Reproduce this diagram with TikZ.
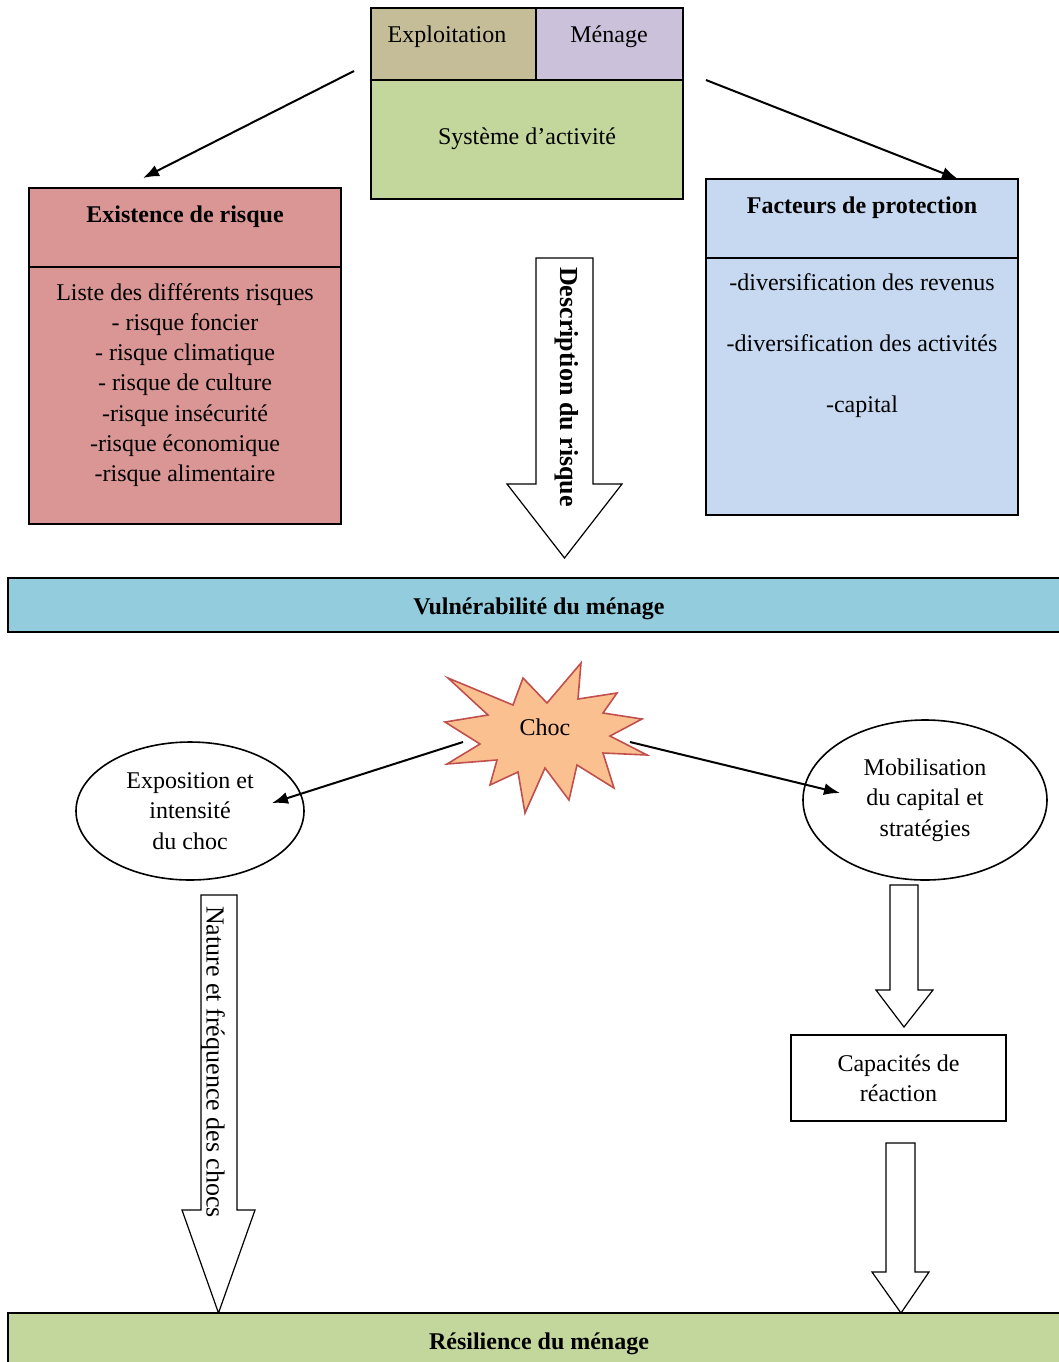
\documentclass[tikz,border=0pt]{standalone}
\usepackage{fontspec}
\setmainfont{Liberation Serif}
\usetikzlibrary{arrows.meta, shapes.geometric, positioning}

\definecolor{exploit}{HTML}{C4BD97}
\definecolor{menage}{HTML}{CCC1DA}
\definecolor{systeme}{HTML}{C3D69B}
\definecolor{risque}{HTML}{D99694}
\definecolor{protect}{HTML}{C6D9F1}
\definecolor{vuln}{HTML}{93CDDD}
\definecolor{chocfill}{HTML}{FAC090}
\definecolor{chocline}{HTML}{C0504D}

\tikzset{
    cell/.style={draw, line width=0.8pt, inner sep=0pt},
    txt/.style={align=center, inner sep=0pt, font=\fontsize{12}{15.15}\selectfont},
    btxt/.style={align=center, inner sep=0pt, font=\fontsize{12}{15.15}\selectfont\bfseries},
    bar/.style={cell, btxt, text height=9.5pt, text depth=0pt, minimum width=531pt, minimum height=27pt},
    oval/.style={ellipse, draw, line width=0.8pt, txt},
    blk/.style={draw, fill=white, line width=0.6pt},
    rot/.style={rotate=-90, inner sep=0pt, font=\fontsize{13}{15}\selectfont}
}

\begin{document}
\begin{tikzpicture}[x=0.5pt, y=-0.5pt, >={Latex[length=8pt,width=6pt]}]
            \useasboundingbox (0,0) rectangle (1059,1362);

            % activity system
            \node[cell, fill=exploit, minimum width=82.5pt, minimum height=36pt] (expl) at (453.5,44) {};
            \node[cell, fill=menage, minimum width=73.5pt, minimum height=36pt] (men) at (609.5,44) {};
            \node[cell, fill=systeme, minimum width=156pt, minimum height=59.5pt] (sys) at (527,139.5) {};
            \node[txt] (explt) at (447,37) {Exploitation};
            \node[txt] (ment) at (609,37) {Ménage};
            \node[txt] (syst) at (527,139) {Système d’activité};

            % risks
            \node[cell, fill=risque, minimum width=156pt, minimum height=39.5pt] (risqhead) at (185,227.5) {};
            \node[cell, fill=risque, minimum width=156pt, minimum height=128.5pt] (risqbody) at (185,395.5) {};
            \node[btxt] (risqtitle) at (185,217) {Existence de risque};
            \node[txt] (risqlist) at (185,385) {Liste des différents risques\\- risque foncier\\- risque climatique\\- risque de culture\\-risque insécurité\\-risque économique\\-risque alimentaire};

            % protection
            \node[cell, fill=protect, minimum width=156pt, minimum height=39.5pt] (prothead) at (862,218.5) {};
            \node[cell, fill=protect, minimum width=156pt, minimum height=128.5pt] (protbody) at (862,386.5) {};
            \node[btxt] (prottitle) at (862,208) {Facteurs de protection};
            \node[txt] (protlist) at (862,345.5) {-diversification des revenus\\[15.15pt]-diversification des activités\\[15.15pt]-capital};

            \coordinate (topl) at (354,71);
            \coordinate (topr) at (706,80);
            \coordinate (risqin) at (143,178);
            \coordinate (protin) at (958,179);
            \draw[->, line width=1pt] (topl) -- (risqin);
            \draw[->, line width=1pt] (topr) -- (protin);

            % description arrow
            \draw[blk] (536,258) -- (593,258) -- (593,484) -- (622,484) -- (564.5,558) -- (507,484) -- (536,484) -- cycle;
            \node[rot, font=\fontsize{13}{15}\selectfont\bfseries] (descr) at (567,387) {Description du risque};

            \node[bar, fill=vuln] (vulner) at (539,605) {Vulnérabilité du ménage};

            % shock
            \draw[fill=chocfill, draw=chocline, line width=0.8pt] (448,678) -- (513,705) -- (523,678) -- (547,703) -- (581,663) -- (578,699)
                -- (617,693) -- (603,713) -- (642,719) -- (610,736) -- (647,755) -- (603,753) -- (614,788) -- (577,765)
                -- (569,800) -- (545,768) -- (525,813) -- (518,772) -- (490,785) -- (497,760) -- (447,764) -- (480,744)
                -- (445,722) -- (488,715) -- cycle;
            \node[txt] (choc) at (545,727) {Choc};

            \node[oval, minimum width=114pt, minimum height=69pt] (expo) at (190,811) {Exposition et\\intensité\\du choc};
            \node[oval, minimum width=122pt, minimum height=80pt] (mobil) at (925,800) {Mobilisation\\du capital et\\stratégies};

            \coordinate (chocl) at (463,742);
            \coordinate (chocr) at (630,742);
            \coordinate (expoin) at (272,803);
            \coordinate (mobilin) at (840,793);
            \draw[->, line width=1pt] (chocl) -- (expoin);
            \draw[->, line width=1pt] (chocr) -- (mobilin);

            % frequency arrow
            \draw[blk] (201,895) -- (237,895) -- (237,1210) -- (255,1210) -- (218.5,1313) -- (182,1210) -- (201,1210) -- cycle;
            \node[rot] (nature) at (213,1062) {Nature et fréquence des chocs};

            % reaction
            \draw[blk] (890,885) -- (918,885) -- (918,990) -- (933,990) -- (904,1027) -- (876,990) -- (890,990) -- cycle;
            \node[cell, txt, fill=white, minimum width=107.5pt, minimum height=43pt] (capa) at (898.5,1078) {Capacités de\\réaction};
            \draw[blk] (886,1143) -- (915,1143) -- (915,1272) -- (929,1272) -- (901,1313) -- (872,1272) -- (886,1272) -- cycle;

            \node[bar, fill=systeme] (resil) at (539,1340) {Résilience du ménage};
        \end{tikzpicture}
\end{document}
